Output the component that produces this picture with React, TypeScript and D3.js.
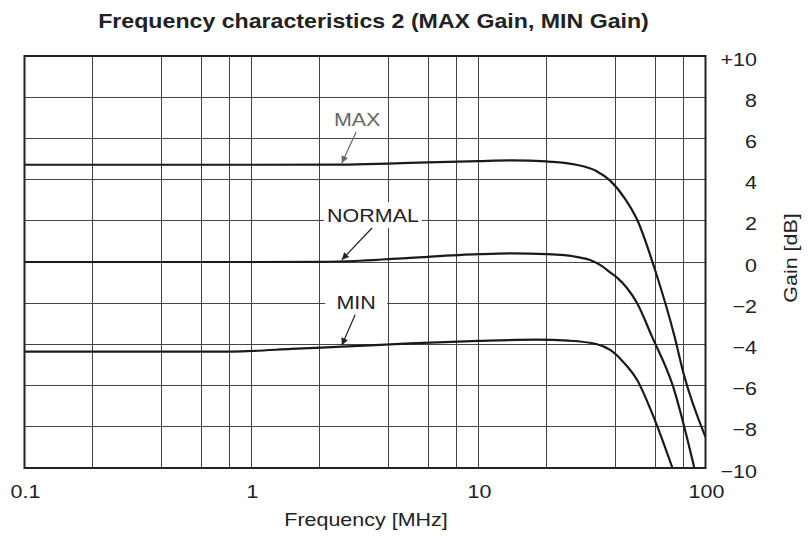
import React from "react";
import * as d3 from "d3";

type Pt = { f: number; db: number };

const maxGain: Pt[] = [
  { f: 0.1, db: 4.72 }, { f: 1, db: 4.72 }, { f: 2.5, db: 4.73 }, { f: 4, db: 4.78 },
  { f: 6, db: 4.84 }, { f: 10, db: 4.9 }, { f: 14, db: 4.93 }, { f: 20, db: 4.88 },
  { f: 27, db: 4.72 }, { f: 33, db: 4.42 }, { f: 38, db: 3.95 }, { f: 44, db: 3.1 },
  { f: 50, db: 2.05 }, { f: 60, db: -0.4 }, { f: 73, db: -3.6 }, { f: 80, db: -5.4 },
  { f: 100, db: -8.5 },
];

const normalGain: Pt[] = [
  { f: 0.1, db: 0 }, { f: 1, db: 0 }, { f: 2, db: 0.01 }, { f: 3, db: 0.06 },
  { f: 5, db: 0.2 }, { f: 10, db: 0.38 }, { f: 14, db: 0.42 }, { f: 20, db: 0.38 },
  { f: 27, db: 0.25 }, { f: 31, db: 0.1 }, { f: 35, db: -0.2 }, { f: 38, db: -0.5 },
  { f: 41, db: -0.78 }, { f: 45, db: -1.25 }, { f: 50, db: -2.0 }, { f: 58, db: -3.6 },
  { f: 72, db: -6.05 }, { f: 89.3, db: -10 },
];

const minGain: Pt[] = [
  { f: 0.1, db: -4.35 }, { f: 0.8, db: -4.35 }, { f: 1, db: -4.32 }, { f: 1.5, db: -4.22 },
  { f: 2.5, db: -4.11 }, { f: 5, db: -3.95 }, { f: 10, db: -3.83 }, { f: 18, db: -3.77 },
  { f: 25, db: -3.82 }, { f: 33, db: -3.98 }, { f: 38, db: -4.27 }, { f: 43, db: -4.8 },
  { f: 50, db: -5.73 }, { f: 59, db: -7.51 }, { f: 71.5, db: -10 },
];

const xTicks = [0.1, 1, 10, 100];
const xTickLabels = ["0.1", "1", "10", "100"];
const xGrid = [0.2, 0.4, 0.6, 0.8, 1, 2, 4, 6, 8, 10, 20, 40, 60, 80];
const yTicks = [10, 8, 6, 4, 2, 0, -2, -4, -6, -8, -10];
const yTickLabels = ["+10", "8", "6", "4", "2", "0", "\u22122", "\u22124", "\u22126", "\u22128", "\u221210"];

// annotation labels: text, label position (freq, dB), arrow target freq
const notes: { text: string; f: number; db: number; at: number; series: Pt[]; color: string; boxW: number }[] = [
  { text: "MAX", f: 2.92, db: 6.94, at: 2.5, series: maxGain, color: "#666", boxW: 60 },
  { text: "NORMAL", f: 3.43, db: 2.28, at: 2.5, series: normalGain, color: "#222", boxW: 98 },
  { text: "MIN", f: 2.89, db: -1.93, at: 2.5, series: minGain, color: "#222", boxW: 62 },
];

const W = 808;
const H = 536;
const left = 24.5;
const right = 705.5;
const top = 56;
const bottom = 468;
const SX = 1.13;
const FONT = "'Liberation Sans', Arial, Helvetica, sans-serif";

const Txt: React.FC<{
  x: number; y: number; anchor?: string; size?: number; weight?: string | number;
  fill?: string; rot?: boolean; children: React.ReactNode;
}> = ({ x, y, anchor = "middle", size = 19, weight = "normal", fill = "#222", rot, children }) => (
  <g transform={`translate(${x},${y})${rot ? " rotate(-90)" : ""} scale(${SX},1)`}>
    <text textAnchor={anchor as any} fontSize={size} fontWeight={weight} fill={fill} fontFamily={FONT}>
      {children}
    </text>
  </g>
);

const App: React.FC = () => {
  const x = d3.scaleLog().domain([0.1, 100]).range([left, right]);
  const y = d3.scaleLinear().domain([-10, 10]).range([bottom, top]);

  const line = d3
    .line<Pt>()
    .x((d) => x(d.f))
    .y((d) => y(d.db))
    .curve(d3.curveMonotoneX);

  // value of a series at a frequency (for the arrow tips)
  const interp = (s: Pt[], f: number) => {
    const lf = Math.log10(f);
    for (let i = 0; i < s.length - 1; i++) {
      const a = Math.log10(s[i].f), b = Math.log10(s[i + 1].f);
      if (lf >= a && lf <= b) return s[i].db + ((lf - a) / (b - a)) * (s[i + 1].db - s[i].db);
    }
    return s[s.length - 1].db;
  };

  return (
    <svg width={W} height={H} style={{ position: "absolute", left: 0, top: 0, background: "#fff" }}>
      <defs>
        <clipPath id="plot">
          <rect x={left} y={top} width={right - left} height={bottom - top} />
        </clipPath>
        <marker id="arrDark" viewBox="0 0 10 10" refX="10" refY="5" markerWidth="10" markerHeight="7" orient="auto" markerUnits="userSpaceOnUse">
          <path d="M0,0 L10,5 L0,10 z" fill="#222" />
        </marker>
        <marker id="arrGray" viewBox="0 0 10 10" refX="10" refY="5" markerWidth="10" markerHeight="7" orient="auto" markerUnits="userSpaceOnUse">
          <path d="M0,0 L10,5 L0,10 z" fill="#666" />
        </marker>
      </defs>

      <Txt x={373.5} y={28} size={20.5} weight="bold" fill="#222">
        Frequency characteristics 2 (MAX Gain, MIN Gain)
      </Txt>

      {/* grid */}
      <g stroke="#444" strokeWidth={1} shapeRendering="crispEdges">
        {xGrid.map((v) => (
          <line key={"x" + v} x1={x(v)} x2={x(v)} y1={top} y2={bottom} />
        ))}
        {yTicks.map((v) => (
          <line key={"y" + v} x1={left} x2={right} y1={y(v)} y2={y(v)} />
        ))}
      </g>

      {/* white boxes behind labels */}
      {notes.map((n) => (
        <rect key={"b" + n.text} x={x(n.f) - n.boxW / 2} y={y(n.db) - 13} width={n.boxW} height={26} fill="#fff" />
      ))}

      {/* curves */}
      <g clipPath="url(#plot)" fill="none" stroke="#1a1a1a" strokeWidth={2.2}>
        {[maxGain, normalGain, minGain].map((s, i) => (
          <path key={i} d={line(s) ?? ""} />
        ))}
      </g>

      {/* frame */}
      <rect x={left} y={top} width={right - left} height={bottom - top} fill="none" stroke="#222" strokeWidth={2} />

      {/* annotations */}
      {notes.map((n) => {
        const tx = x(n.at);
        const ty = y(interp(n.series, n.at)) - 1.5;
        return (
          <g key={n.text}>
            <Txt x={x(n.f)} y={y(n.db) + 7} fill={n.color}>{n.text}</Txt>
            <line
              x1={x(n.f) - 1}
              y1={y(n.db) + 13}
              x2={tx}
              y2={ty}
              stroke={n.color}
              strokeWidth={1.2}
              markerEnd={n.color === "#666" ? "url(#arrGray)" : "url(#arrDark)"}
            />
          </g>
        );
      })}

      {/* x tick labels */}
      {xTicks.map((v, i) => (
        <Txt key={"xt" + v} x={x(v) + 1} y={497.5}>{xTickLabels[i]}</Txt>
      ))}
      <Txt x={366} y={526}>Frequency [MHz]</Txt>

      {/* y tick labels */}
      {yTicks.map((v, i) => (
        <Txt key={"yt" + v} x={757} y={y(v) + 9.5} anchor="end">{yTickLabels[i]}</Txt>
      ))}
      <Txt x={797} y={258} rot>Gain [dB]</Txt>
    </svg>
  );
};

export default App;
